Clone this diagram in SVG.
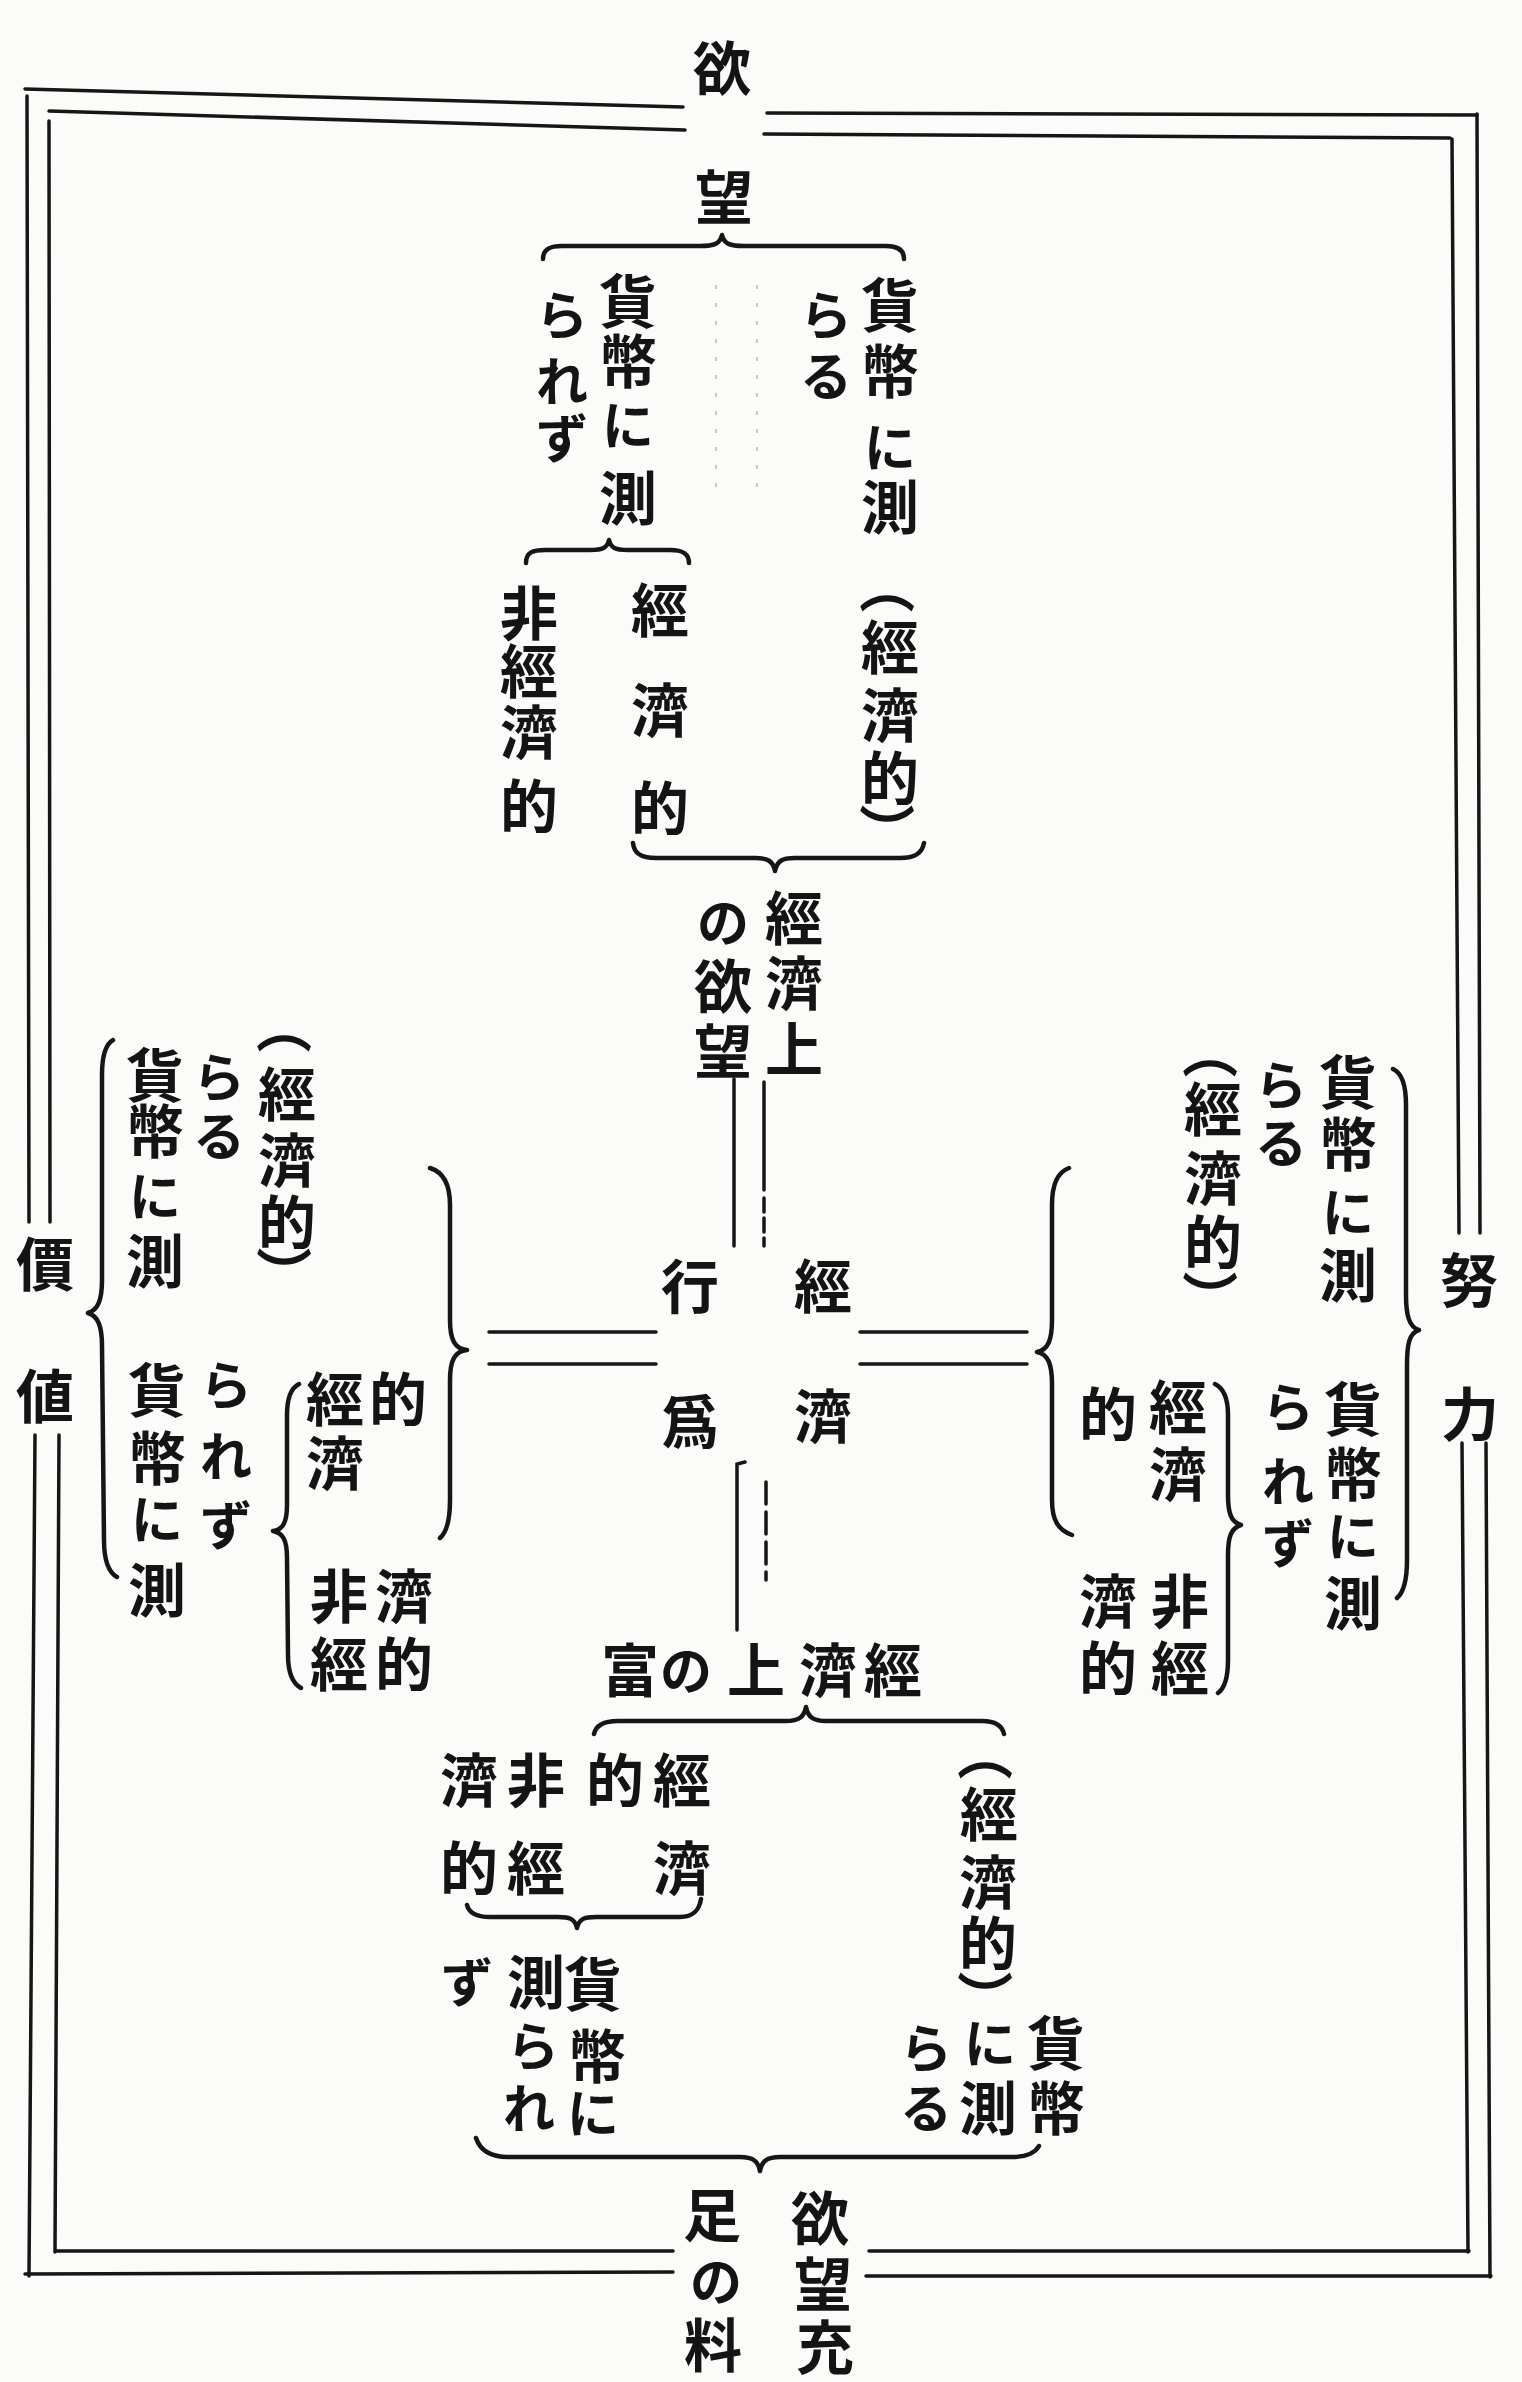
<svg xmlns="http://www.w3.org/2000/svg" width="1522" height="2382" viewBox="0 0 1522 2382">
<style>
.c{font-family:"Noto Sans CJK JP","Noto Sans CJK SC",sans-serif;font-size:58px;font-weight:700;fill:#141414;text-anchor:middle;dominant-baseline:central}
.k{font-family:"Noto Sans CJK JP","Noto Sans CJK SC",sans-serif;font-size:52px;font-weight:700;fill:#141414;text-anchor:middle;dominant-baseline:central}
.p{font-family:"Noto Sans CJK JP","Noto Sans CJK SC",sans-serif;font-size:56px;font-weight:700;fill:#141414;text-anchor:middle;dominant-baseline:central}
.ln{stroke:#161616;stroke-width:3.5;fill:none;stroke-linecap:round}
.br{stroke:#161616;stroke-width:4.5;fill:none;stroke-linecap:round;stroke-linejoin:round}
.fa{stroke:#c8c8c8;stroke-width:2;fill:none;stroke-dasharray:4 14}
</style>
<rect width="1522" height="2382" fill="#fbfbf9"/>
<g id="frame">
<line class="ln" x1="25" y1="89" x2="683" y2="107"/>
<line class="ln" x1="767" y1="113" x2="1477" y2="115"/>
<line class="ln" x1="1477" y1="114" x2="1480" y2="1233"/>
<line class="ln" x1="1486" y1="1443" x2="1490" y2="2277"/>
<line class="ln" x1="866" y1="2276" x2="1491" y2="2276"/>
<line class="ln" x1="25" y1="2274" x2="673" y2="2272"/>
<line class="ln" x1="27" y1="96" x2="29" y2="1222"/>
<line class="ln" x1="35" y1="1435" x2="29" y2="2276"/>
<line class="ln" x1="49" y1="111" x2="685" y2="130"/>
<line class="ln" x1="764" y1="134" x2="1450" y2="138"/>
<line class="ln" x1="1452" y1="139" x2="1459" y2="1233"/>
<line class="ln" x1="1462" y1="1443" x2="1468" y2="2252"/>
<line class="ln" x1="869" y1="2251" x2="1469" y2="2251"/>
<line class="ln" x1="57" y1="2251" x2="673" y2="2251"/>
<line class="ln" x1="49" y1="121" x2="50" y2="1222"/>
<line class="ln" x1="59" y1="1435" x2="55" y2="2252"/>
</g>
<g id="connectors">
<line class="fa" x1="716" y1="285" x2="716" y2="495"/>
<line class="fa" x1="757" y1="285" x2="757" y2="495"/>
<path class="br" d="M543,259 C543,249 550,246 562,246 L700,246 C714,246 720,244 722,235 C724,244 730,246 744,246 L886,246 C898,246 904,250 904,259"/>
<path class="br" d="M526,563 C526,552 533,550 545,550 L590,550 C603,550 607,548 609,540 C611,548 615,550 628,550 L670,550 C682,550 689,553 689,563"/>
<path class="br" d="M633,843 C634,854 642,858 656,858 L755,858 C768,858 773,861 775,871 C777,861 782,858 795,858 L900,858 C914,858 922,854 924,843"/>
<line class="ln" x1="734" y1="1079" x2="734" y2="1246"/>
<line class="ln" x1="764" y1="1082" x2="764" y2="1190"/>
<line class="ln" x1="764" y1="1198" x2="764" y2="1246" stroke-dasharray="14 6"/>
<line class="ln" x1="489" y1="1332" x2="656" y2="1332"/>
<line class="ln" x1="489" y1="1364" x2="656" y2="1364"/>
<line class="ln" x1="860" y1="1332" x2="1027" y2="1332"/>
<line class="ln" x1="860" y1="1364" x2="1027" y2="1364"/>
<path class="ln" d="M745,1462 L737,1464 L737,1630"/>
<line class="ln" x1="766" y1="1482" x2="766" y2="1580" stroke-dasharray="22 8"/>
<path class="br" d="M430,1168 C443,1172 450,1185 450,1205 L450,1320 C450,1340 455,1349 467,1350 C455,1351 450,1360 450,1380 L450,1500 C450,1520 447,1532 440,1538"/>
<path class="br" d="M1069,1168 C1058,1172 1052,1185 1052,1205 L1052,1320 C1052,1340 1048,1350 1037,1352 C1048,1354 1052,1364 1052,1384 L1052,1500 C1052,1520 1058,1530 1072,1535"/>
<path class="br" d="M113,1040 C106,1044 102,1055 102,1075 L102,1280 C102,1300 98,1310 88,1313 C98,1316 102,1326 102,1346 L104,1540 C104,1560 108,1572 117,1577"/>
<path class="br" d="M299,1384 C291,1388 287,1398 287,1415 L287,1505 C287,1522 283,1530 273,1531 C283,1533 287,1540 287,1558 L288,1655 C288,1672 292,1683 301,1688"/>
<path class="br" d="M1393,1069 C1402,1073 1406,1085 1406,1105 L1406,1295 C1406,1315 1409,1327 1419,1330 C1409,1333 1407,1345 1407,1365 L1407,1560 C1407,1580 1404,1592 1397,1598"/>
<path class="br" d="M1215,1384 C1223,1388 1228,1398 1228,1415 L1228,1495 C1228,1513 1231,1522 1241,1525 C1231,1528 1228,1537 1228,1555 L1228,1660 C1228,1677 1225,1688 1218,1693"/>
<path class="br" d="M594,1734 C596,1725 604,1721 618,1721 L786,1721 C799,1721 804,1717 806,1707 C808,1717 813,1721 826,1721 L982,1721 C995,1721 1002,1725 1004,1734"/>
<path class="br" d="M467,1905 C469,1913 476,1917 490,1917 L558,1917 C570,1917 575,1919 577,1928 C579,1919 584,1917 596,1917 L680,1917 C693,1917 699,1911 701,1899"/>
<path class="br" d="M476,2138 C480,2150 490,2157 508,2157 L740,2157 C753,2157 758,2161 760,2171 C762,2161 767,2157 780,2157 L1012,2157 C1026,2157 1035,2153 1039,2146"/>
</g>
<g id="node-yokubou">
<text class="c" x="722" y="65">欲</text>
<text class="c" x="724" y="194">望</text>
</g>
<g id="node-top-hakarazu">
<text class="c" x="628" y="298">貨</text>
<text class="c" x="628" y="358">幣</text>
<text class="k" x="628" y="422">に</text>
<text class="c" x="628" y="495">測</text>
<text class="k" x="562" y="312">ら</text>
<text class="k" x="562" y="378">れ</text>
<text class="k" x="562" y="435">ず</text>
</g>
<g id="node-top-hakaru">
<text class="c" x="890" y="302">貨</text>
<text class="c" x="890" y="368">幣</text>
<text class="k" x="890" y="444">に</text>
<text class="c" x="890" y="504">測</text>
<text class="k" x="826" y="312">ら</text>
<text class="k" x="826" y="373">る</text>
<text class="p" x="890" y="586" transform="rotate(90 890 586)">（</text>
<text class="c" x="890" y="644">經</text>
<text class="c" x="890" y="712">濟</text>
<text class="c" x="890" y="775">的</text>
<text class="p" x="890" y="831" transform="rotate(90 890 831)">）</text>
</g>
<g id="node-top-keizaiteki">
<text class="c" x="660" y="607">經</text>
<text class="c" x="660" y="707">濟</text>
<text class="c" x="660" y="805">的</text>
</g>
<g id="node-top-hikeizaiteki">
<text class="c" x="529" y="610">非</text>
<text class="c" x="529" y="668">經</text>
<text class="c" x="529" y="729">濟</text>
<text class="c" x="529" y="803">的</text>
</g>
<g id="node-keizaijou-yokubou">
<text class="c" x="794" y="915">經</text>
<text class="c" x="794" y="980">濟</text>
<text class="c" x="794" y="1046">上</text>
<text class="k" x="723" y="919">の</text>
<text class="c" x="723" y="983">欲</text>
<text class="c" x="723" y="1048">望</text>
</g>
<g id="node-keizai-koui">
<text class="c" x="823" y="1283">經</text>
<text class="c" x="823" y="1413">濟</text>
<text class="c" x="690" y="1283">行</text>
<text class="c" x="690" y="1418">爲</text>
</g>
<g id="node-kachi">
<text class="c" x="45" y="1261">價</text>
<text class="c" x="45" y="1393">値</text>
</g>
<g id="node-doryoku">
<text class="c" x="1469" y="1277">努</text>
<text class="c" x="1470" y="1411">力</text>
</g>
<g id="node-left-hakaru">
<text class="c" x="155" y="1072">貨</text>
<text class="c" x="155" y="1128">幣</text>
<text class="k" x="155" y="1193">に</text>
<text class="c" x="155" y="1258">測</text>
<text class="k" x="219" y="1074">ら</text>
<text class="k" x="219" y="1133">る</text>
<text class="p" x="287" y="1026" transform="rotate(90 287 1026)">（</text>
<text class="c" x="287" y="1091">經</text>
<text class="c" x="287" y="1157">濟</text>
<text class="c" x="287" y="1219">的</text>
<text class="p" x="287" y="1274" transform="rotate(90 287 1274)">）</text>
</g>
<g id="node-left-hakarazu">
<text class="c" x="157" y="1387">貨</text>
<text class="c" x="157" y="1455">幣</text>
<text class="k" x="157" y="1516">に</text>
<text class="c" x="157" y="1587">測</text>
<text class="k" x="226" y="1382">ら</text>
<text class="k" x="226" y="1453">れ</text>
<text class="k" x="226" y="1522">ず</text>
</g>
<g id="node-left-keizaiteki">
<text class="c" x="335" y="1396">經</text>
<text class="c" x="398" y="1396">的</text>
<text class="c" x="335" y="1460">濟</text>
</g>
<g id="node-left-hikeizaiteki">
<text class="c" x="339" y="1593">非</text>
<text class="c" x="404" y="1593">濟</text>
<text class="c" x="339" y="1661">經</text>
<text class="c" x="404" y="1661">的</text>
</g>
<g id="node-right-hakaru">
<text class="c" x="1348" y="1079">貨</text>
<text class="c" x="1348" y="1141">幣</text>
<text class="k" x="1348" y="1209">に</text>
<text class="c" x="1348" y="1272">測</text>
<text class="k" x="1281" y="1082">ら</text>
<text class="k" x="1281" y="1140">る</text>
<text class="p" x="1213" y="1051" transform="rotate(90 1213 1051)">（</text>
<text class="c" x="1213" y="1106">經</text>
<text class="c" x="1213" y="1175">濟</text>
<text class="c" x="1213" y="1239">的</text>
<text class="p" x="1213" y="1298" transform="rotate(90 1213 1298)">）</text>
</g>
<g id="node-right-hakarazu">
<text class="c" x="1353" y="1406">貨</text>
<text class="c" x="1353" y="1471">幣</text>
<text class="k" x="1353" y="1533">に</text>
<text class="c" x="1353" y="1600">測</text>
<text class="k" x="1288" y="1404">ら</text>
<text class="k" x="1288" y="1478">れ</text>
<text class="k" x="1288" y="1540">ず</text>
</g>
<g id="node-right-keizaiteki">
<text class="c" x="1178" y="1404">經</text>
<text class="c" x="1178" y="1471">濟</text>
<text class="c" x="1108" y="1411">的</text>
</g>
<g id="node-right-hikeizaiteki">
<text class="c" x="1180" y="1598">非</text>
<text class="c" x="1180" y="1665">經</text>
<text class="c" x="1108" y="1598">濟</text>
<text class="c" x="1108" y="1665">的</text>
</g>
<g id="node-keizaijou-tomi">
<text class="c" x="630" y="1667">富</text>
<text class="k" x="686" y="1667">の</text>
<text class="c" x="756" y="1667">上</text>
<text class="c" x="828" y="1667">濟</text>
<text class="c" x="893" y="1667">經</text>
</g>
<g id="node-bottom-keizaiteki">
<text class="c" x="682" y="1777">經</text>
<text class="c" x="615" y="1777">的</text>
<text class="c" x="682" y="1865">濟</text>
<text class="c" x="536" y="1777">非</text>
<text class="c" x="469" y="1777">濟</text>
<text class="c" x="536" y="1865">經</text>
<text class="c" x="469" y="1865">的</text>
</g>
<g id="node-bottom-hakarazu">
<text class="c" x="593" y="1981">貨</text>
<text class="c" x="597" y="2053">幣</text>
<text class="k" x="593" y="2110">に</text>
<text class="c" x="536" y="1979">測</text>
<text class="k" x="533" y="2043">ら</text>
<text class="k" x="529" y="2105">れ</text>
<text class="k" x="467" y="1979">ず</text>
</g>
<g id="node-bottom-hakaru">
<text class="p" x="988" y="1753" transform="rotate(90 988 1753)">（</text>
<text class="c" x="989" y="1811">經</text>
<text class="c" x="988" y="1879">濟</text>
<text class="c" x="988" y="1940">的</text>
<text class="p" x="988" y="1998" transform="rotate(90 988 1998)">）</text>
<text class="c" x="1056" y="2040">貨</text>
<text class="c" x="1056" y="2105">幣</text>
<text class="k" x="990" y="2040">に</text>
<text class="c" x="988" y="2105">測</text>
<text class="k" x="926" y="2045">ら</text>
<text class="k" x="926" y="2105">る</text>
</g>
<g id="node-juusoku">
<text class="c" x="820" y="2215">欲</text>
<text class="c" x="823" y="2281">望</text>
<text class="c" x="825" y="2344">充</text>
<text class="c" x="712" y="2212">足</text>
<text class="k" x="716" y="2278">の</text>
<text class="c" x="713" y="2342">料</text>
</g>
</svg>
